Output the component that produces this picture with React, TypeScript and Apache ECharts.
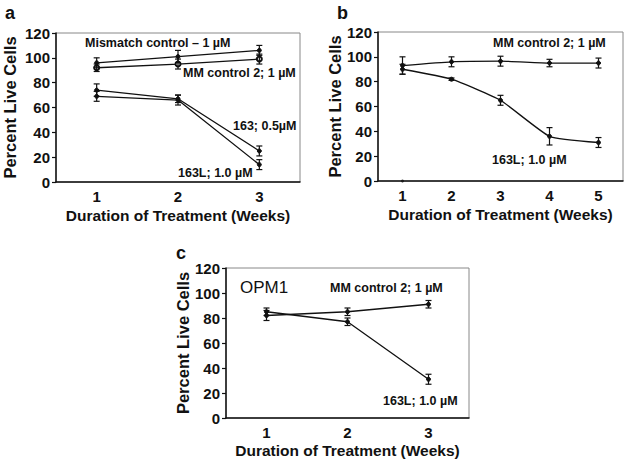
import React, { useEffect, useRef } from "react";
import * as echarts from "echarts";

const weeksA = ["1", "2", "3"];
const mismatchA = [96, 101, 106];
const mismatchErrA = [4, 5, 4];
const mmA = [92, 95, 99];
const mmErrA = [3, 4, 4];
const s163A = [74, 67, 25];
const s163ErrA = [5, 3, 4];
const s163LA = [69, 66, 14];
const s163LErrA = [4, 4, 4];

const weeksB = ["1", "2", "3", "4", "5"];
const mmB = [93, 96, 96.5, 95, 95];
const mmErrB = [7, 4, 4, 3, 4];
const s163LB = [90, 82, 65, 36, 31];
const s163LErrB = [4, 1, 4, 7, 4];
const strayB = [0];

const weeksC = ["1", "2", "3"];
const mmC = [82, 85, 91];
const mmErrC = [4, 3, 3];
const s163LC = [85, 77, 31];
const s163LErrC = [3, 3, 4];

const yTicks = { min: 0, max: 120, interval: 20 };

const FONT = "Arial, 'Liberation Sans', sans-serif";
const INK = "#111";

function errData(vals: number[], errs: number[]) {
  return vals.map((v, i) => [i, v - errs[i], v + errs[i]]);
}

function errSeries(vals: number[], errs: number[], idx: number) {
  return {
    type: "custom",
    xAxisIndex: idx,
    yAxisIndex: idx,
    z: 5,
    data: errData(vals, errs),
    encode: { x: 0, y: [1, 2] },
    renderItem: (params: any, api: any) => {
      const lo = api.coord([api.value(0), api.value(1)]);
      const hi = api.coord([api.value(0), api.value(2)]);
      const w = 3;
      const st = { stroke: INK, lineWidth: 1.2 };
      return {
        type: "group",
        children: [
          { type: "line", shape: { x1: lo[0], y1: lo[1], x2: hi[0], y2: hi[1] }, style: st },
          { type: "line", shape: { x1: lo[0] - w, y1: lo[1], x2: lo[0] + w, y2: lo[1] }, style: st },
          { type: "line", shape: { x1: hi[0] - w, y1: hi[1], x2: hi[0] + w, y2: hi[1] }, style: st },
        ],
      };
    },
  };
}

function lineSeries(name: string, vals: number[], idx: number, symbol = "circle", smooth: any = false) {
  return {
    type: "line",
    name,
    xAxisIndex: idx,
    yAxisIndex: idx,
    data: vals,
    smooth,
    symbol,
    symbolSize: symbol === "emptyCircle" ? 5 : 4,
    showSymbol: true,
    lineStyle: { color: INK, width: 1.3 },
    itemStyle: { color: INK, borderColor: INK, borderWidth: 1 },
    z: 4,
  };
}

function xAxis(idx: number, data: string[], gap: number) {
  return {
    type: "category",
    gridIndex: idx,
    data,
    boundaryGap: true,
    axisLine: { show: true, lineStyle: { color: INK, width: 1.5 } },
    axisTick: { show: false },
    axisLabel: { color: INK, fontSize: 15, fontWeight: "bold", fontFamily: FONT, margin: 7 },
    name: "Duration of Treatment (Weeks)",
    nameLocation: "middle",
    nameGap: gap,
    nameTextStyle: { color: INK, fontSize: 15.5, fontWeight: "bold", fontFamily: FONT },
    splitLine: { show: false },
  };
}

function yAxis(idx: number, gap: number) {
  return {
    type: "value",
    gridIndex: idx,
    ...yTicks,
    axisLine: { show: true, lineStyle: { color: INK, width: 1.5 } },
    axisTick: { show: true, inside: false, length: 4, lineStyle: { color: INK, width: 1.2 } },
    axisLabel: { color: INK, fontSize: 15, fontWeight: "bold", fontFamily: FONT, margin: 6 },
    splitLine: { show: false },
    name: "Percent Live Cells",
    nameLocation: "middle",
    nameGap: gap,
    nameRotate: 90,
    nameTextStyle: { color: INK, fontSize: 16.5, fontWeight: "bold", fontFamily: FONT },
  };
}

function txt(x: number, y: number, text: string, size = 12.5, weight = "bold", align = "left") {
  return {
    type: "text",
    x,
    y,
    style: {
      text,
      fill: INK,
      font: `${weight} ${size}px ${FONT}`,
      textAlign: align,
      textVerticalAlign: "middle",
    },
    z: 10,
  };
}

export default function App() {
  const ref = useRef<HTMLDivElement>(null);
  useEffect(() => {
    if (!ref.current) return;
    const chart = echarts.init(ref.current, undefined, { renderer: "svg" });
    const gridStyle = { show: true, borderColor: "#888", borderWidth: 1, backgroundColor: "transparent" };
    chart.setOption({
      animation: false,
      backgroundColor: "#fff",
      grid: [
        { left: 56, top: 33, width: 244, height: 149, ...gridStyle },
        { left: 378, top: 32, width: 245, height: 149, ...gridStyle },
        { left: 226, top: 268, width: 243, height: 150, ...gridStyle },
      ],
      xAxis: [xAxis(0, weeksA, 25), xAxis(1, weeksB, 25), xAxis(2, weeksC, 24)],
      yAxis: [yAxis(0, 38), yAxis(1, 28), yAxis(2, 34)],
      series: [
        lineSeries("Mismatch control – 1 µM", mismatchA, 0),
        errSeries(mismatchA, mismatchErrA, 0),
        lineSeries("MM control 2; 1 µM", mmA, 0, "emptyCircle"),
        errSeries(mmA, mmErrA, 0),
        lineSeries("163; 0.5µM", s163A, 0),
        errSeries(s163A, s163ErrA, 0),
        lineSeries("163L; 1.0 µM", s163LA, 0),
        errSeries(s163LA, s163LErrA, 0),

        lineSeries("MM control 2; 1 µM", mmB, 1, "circle", 0.15),
        errSeries(mmB, mmErrB, 1),
        lineSeries("163L; 1.0 µM", s163LB, 1, "circle", 0.15),
        errSeries(s163LB, s163LErrB, 1),
        {
          type: "scatter",
          xAxisIndex: 1,
          yAxisIndex: 1,
          data: strayB,
          symbol: "circle",
          symbolSize: 3,
          itemStyle: { color: INK },
          z: 6,
        },

        lineSeries("MM control 2; 1 µM", mmC, 2),
        errSeries(mmC, mmErrC, 2),
        lineSeries("163L; 1.0 µM", s163LC, 2),
        errSeries(s163LC, s163LErrC, 2),
      ],
      graphic: [
        txt(5, 13, "a", 18),
        txt(337, 13, "b", 18),
        txt(176, 253, "c", 18),
        txt(85, 43, "Mismatch control – 1 µM"),
        txt(183, 73, "MM control 2; 1 µM"),
        txt(233, 126, "163; 0.5µM"),
        txt(178, 173, "163L; 1.0 µM"),
        txt(493, 43, "MM control 2; 1 µM"),
        txt(492, 160, "163L; 1.0 µM"),
        txt(240, 287, "OPM1", 17, "normal"),
        txt(330, 288, "MM control 2; 1 µM"),
        txt(383, 401, "163L; 1.0 µM"),
      ],
    });
    return () => chart.dispose();
  }, []);
  return (
    <div
      ref={ref}
      style={{ position: "fixed", left: 0, top: 0, width: 629, height: 464 }}
    />
  );
}
